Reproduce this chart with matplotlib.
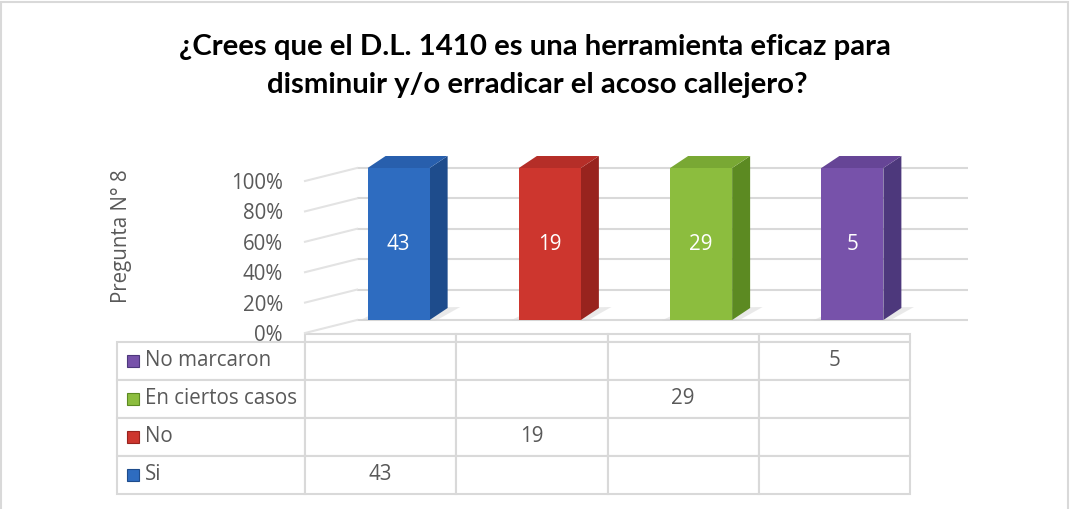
import numpy as np
import matplotlib
matplotlib.use('Agg')
from matplotlib import pyplot as plt
from matplotlib import transforms as mtransforms
from matplotlib.patches import Polygon, Rectangle
from matplotlib.lines import Line2D
from matplotlib.table import Table

TITLE_1 = '¿Crees que el D.L. 1410 es una herramienta eficaz para'
TITLE_2 = 'disminuir y/o erradicar el acoso callejero?'
Y_LABEL = 'Pregunta N° 8'

categories = ['', '', '', '']
series_names = ['Si', 'No', 'En ciertos casos', 'No marcaron']
si = [43, None, None, None]
no = [None, 19, None, None]
en_ciertos_casos = [None, None, 29, None]
no_marcaron = [None, None, None, 5]
y_ticks = [0, 20, 40, 60, 80, 100]

front_colors = ['#2E6CC0', '#CD362E', '#8CBD3E', '#7752AA']
side_colors = ['#1E4C8C', '#98231E', '#5C8A22', '#4D387C']
top_colors = ['#285FAD', '#B52E28', '#79A834', '#664596']

GRID = '#D9D9D9'
TEXT = '#595959'
FS = 14.8

# layout, figure pixels (y measured from the top)
W, H = 1070, 509
AX_L, AX_R, AX_B, AX_T = 305, 910, 333, 181
WALL_D = (52, 13)      # depth of the walls, px right / up
BAR_OFF = (18, 13)     # where the bar front sits behind the front plane
BAR_D = (18, 12)       # depth of a bar
BAR_W = 0.41
TAB_L, TAB_T, HDR_H, ROW_H = 117, 334, 8, 38

plt.rcParams['font.family'] = ['Open Sans', 'DejaVu Sans']

fig = plt.figure(figsize=(W / 100, H / 100), dpi=100)
ax = fig.add_axes([AX_L / W, 1 - AX_B / H, (AX_R - AX_L) / W, (AX_B - AX_T) / H])
ax.set_xlim(0, len(categories))
ax.set_ylim(0, 100)
ax.set_autoscale_on(False)
ax.patch.set_visible(False)
for s in ax.spines.values():
    s.set_visible(False)
ax.set_xticks([])
ax.set_yticks(y_ticks)
ax.set_yticklabels([f'{t}%' for t in y_ticks], fontsize=FS, color=TEXT)
ax.tick_params(axis='y', length=0, pad=16)

idt = mtransforms.IdentityTransform()


def to_px(x, y, d=(0, 0)):
    X, Y = ax.transData.transform((x, y))
    return X + d[0], Y + d[1]


# back wall gridlines and left wall
back = mtransforms.offset_copy(ax.transData, fig=fig, x=WALL_D[0], y=WALL_D[1], units='dots')
ax.hlines(y_ticks, 0, len(categories) + 0.04, transform=back, color=GRID, lw=1.5, clip_on=False, zorder=1)
for t in y_ticks:
    p0 = to_px(0, t)
    p1 = to_px(0, t, WALL_D)
    ax.add_artist(Line2D([p0[0], p1[0]], [p0[1], p1[1]], transform=idt, color='#E3E3E3',
                         lw=1.5, clip_on=False, zorder=1))

# 100% stacked values
series = [si, no, en_ciertos_casos, no_marcaron]
vals = np.array([[v or 0 for v in s] for s in series], dtype=float)
pct = vals / vals.sum(axis=0) * 100

bar_tr = mtransforms.offset_copy(ax.transData, fig=fig, x=BAR_OFF[0], y=BAR_OFF[1], units='dots')
x_mid = np.arange(len(categories)) + 0.5
bottoms = np.zeros(len(categories))

for j in range(len(series)):
    for i in range(len(categories)):
        h = pct[j, i]
        if h <= 0:
            continue
        x0, x1 = x_mid[i] - BAR_W / 2, x_mid[i] + BAR_W / 2
        b, t = bottoms[i], bottoms[i] + h
        off2 = (BAR_OFF[0] + BAR_D[0], BAR_OFF[1] + BAR_D[1])
        if b == 0:
            # soft shadow on the floor
            sh = [to_px(x0 - 0.05, 0, (BAR_OFF[0] - 2, BAR_OFF[1] - 1)),
                  to_px(x1 + 0.05, 0, (BAR_OFF[0] - 2, BAR_OFF[1] - 1)),
                  to_px(x1 + 0.07, 0, (off2[0] + 2, off2[1] + 1)),
                  to_px(x0, 0, off2)]
            ax.add_artist(Polygon(sh, closed=True, transform=idt, facecolor='#D5D5D5',
                                  edgecolor='none', alpha=0.5, clip_on=False, zorder=2))
        side = [to_px(x1, b, BAR_OFF), to_px(x1, b, off2), to_px(x1, t, off2), to_px(x1, t, BAR_OFF)]
        top = [to_px(x0, t, BAR_OFF), to_px(x1, t, BAR_OFF), to_px(x1, t, off2), to_px(x0, t, off2)]
        ax.add_artist(Polygon(side, closed=True, transform=idt, facecolor=side_colors[j],
                              edgecolor='none', clip_on=False, zorder=3))
        ax.add_artist(Polygon(top, closed=True, transform=idt, facecolor=top_colors[j],
                              edgecolor='none', clip_on=False, zorder=3))
    ax.bar(x_mid, pct[j], width=BAR_W, bottom=bottoms, color=front_colors[j],
           transform=bar_tr, clip_on=False, zorder=4)
    for i in range(len(categories)):
        if series[j][i] is not None:
            ax.text(x_mid[i], bottoms[i] + pct[j, i] / 2, str(series[j][i]), transform=bar_tr,
                    ha='center', va='center', color='white', fontsize=FS, zorder=5)
    bottoms = bottoms + pct[j]

# data table under the chart
col_w = (AX_R - AX_L) / len(categories)
lab_w = AX_L - TAB_L
n = len(series)
tab_bottom = TAB_T + HDR_H + n * ROW_H
tbl = Table(ax, bbox=[(TAB_L - AX_L) / (AX_R - AX_L), (AX_B - tab_bottom) / (AX_B - AX_T),
                      (AX_R - TAB_L) / (AX_R - AX_L), (tab_bottom - TAB_T) / (AX_B - AX_T)])
tbl.auto_set_font_size(False)
hc = tbl.add_cell(0, 0, width=lab_w, height=HDR_H, text='')
hc.visible_edges = 'open'
for i, c in enumerate(categories):
    tbl.add_cell(0, i + 1, width=col_w, height=HDR_H, text=c, edgecolor=GRID, loc='center')
for r, j in enumerate(reversed(range(n))):
    cell = tbl.add_cell(r + 1, 0, width=lab_w, height=ROW_H, text=series_names[j],
                        edgecolor=GRID, loc='left')
    cell.PAD = (145 - TAB_L) / lab_w
    for i in range(len(categories)):
        v = series[j][i]
        tbl.add_cell(r + 1, i + 1, width=col_w, height=ROW_H, text='' if v is None else str(v),
                     edgecolor=GRID, loc='center')
for cell in tbl.get_celld().values():
    cell.set_linewidth(1.5)
    cell.get_text().set_color(TEXT)
    cell.get_text().set_fontsize(FS)
ax.add_table(tbl)

# legend keys in the row labels
for r, j in enumerate(reversed(range(n))):
    yc = TAB_T + HDR_H + (r + 0.5) * ROW_H
    ax.plot([(133 - AX_L) / (AX_R - AX_L)], [(AX_B - yc) / (AX_B - AX_T)], marker='s', ms=8,
            color=front_colors[j], mec=side_colors[j], mew=0.8, transform=ax.transAxes,
            clip_on=False, zorder=20)

# titles
fig.text(535 / W, 1 - 47 / H, TITLE_1, ha='center', va='center', fontsize=21.2,
         fontweight='bold', family=['Lato', 'DejaVu Sans'], color='black')
fig.text(537 / W, 1 - 85 / H, TITLE_2, ha='center', va='center', fontsize=21.2,
         fontweight='bold', family=['Lato', 'DejaVu Sans'], color='black')
fig.text(121 / W, 1 - 236 / H, Y_LABEL, rotation=90, ha='center', va='center',
         fontsize=FS, color=TEXT)

# chart border
fig.add_artist(Rectangle((1.5 / W, -0.05), (1067.5 - 1.5) / W, 1.05 - 1.5 / H, fill=False,
                         edgecolor=GRID, lw=1.5, transform=fig.transFigure))

fig.savefig('out.png', dpi=100)
plt.close(fig)
